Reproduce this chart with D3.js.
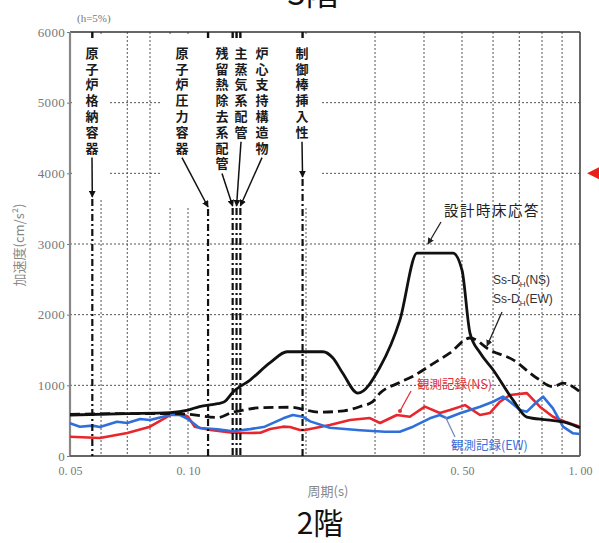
<!DOCTYPE html>
<html>
<head>
<meta charset="utf-8">
<script src="https://cdn.jsdelivr.net/npm/d3@7"></script>
<style>
  body { margin: 0; background: #fff; }
  svg { display: block; }
</style>
</head>
<body>
<div id="chart"></div>
<script>
// periods (s) and floor response values (cm/s^2)
var designT   = [0.05, 0.07, 0.09, 0.1, 0.107, 0.119, 0.124, 0.13, 0.144, 0.162, 0.179, 0.221, 0.234, 0.248, 0.271, 0.309, 0.347, 0.384, 0.474, 0.5, 0.524, 0.556, 0.6, 0.675, 0.732, 0.824, 0.926, 1.0];
var designV   = [580, 600, 615, 650, 700, 740, 770, 900, 1075, 1320, 1475, 1475, 1390, 1175, 890, 1260, 1920, 2870, 2870, 2630, 1740, 1460, 1220, 790, 550, 510, 470, 400];

var ssT       = [0.05, 0.07, 0.09, 0.1, 0.119, 0.13, 0.136, 0.15, 0.182, 0.217, 0.25, 0.275, 0.296, 0.309, 0.347, 0.375, 0.42, 0.466, 0.524, 0.589, 0.675, 0.777, 0.853, 0.905, 1.0];
var ssV       = [590, 600, 600, 590, 545, 620, 640, 680, 690, 620, 640, 700, 770, 890, 1040, 1130, 1300, 1460, 1670, 1500, 1360, 1100, 980, 1030, 910];

var nsT       = [0.05, 0.0596, 0.07, 0.08, 0.09, 0.0954, 0.1, 0.104, 0.114, 0.13, 0.144, 0.153, 0.162, 0.175, 0.182, 0.193, 0.199, 0.23, 0.259, 0.291, 0.309, 0.341, 0.368, 0.402, 0.439, 0.466, 0.509, 0.556, 0.589, 0.625, 0.663, 0.732, 0.79, 0.853, 0.916, 1.0];
var nsV       = [273, 255, 325, 415, 580, 608, 556, 415, 368, 330, 325, 330, 382, 415, 410, 368, 368, 440, 510, 537, 467, 580, 556, 698, 608, 650, 720, 580, 608, 768, 863, 890, 698, 556, 485, 415];

var ewT       = [0.05, 0.053, 0.057, 0.0596, 0.0659, 0.07, 0.0755, 0.08, 0.09, 0.0954, 0.1, 0.107, 0.119, 0.13, 0.144, 0.157, 0.175, 0.185, 0.196, 0.205, 0.23, 0.275, 0.318, 0.347, 0.375, 0.414, 0.439, 0.458, 0.494, 0.556, 0.6, 0.636, 0.663, 0.703, 0.732, 0.777, 0.805, 0.853, 0.905, 0.96, 1.0];
var ewV       = [462, 415, 430, 410, 485, 467, 523, 509, 580, 580, 523, 396, 378, 350, 380, 415, 533, 580, 556, 490, 400, 365, 344, 344, 415, 533, 580, 533, 604, 698, 768, 840, 768, 650, 627, 768, 840, 675, 415, 321, 311];

// natural periods of the equipment checked
var eventT      = [0.057, 0.1125, 0.130, 0.133, 0.136, 0.196];
var eventLabels = ["原子炉格納容器", "原子炉圧力容器", "残留熱除去系配管", "主蒸気系配管", "炉心支持構造物", "制御棒挿入性"];

var yTicks = [0, 1000, 2000, 3000, 4000, 5000, 6000];
var xTicks = [0.05, 0.10, 0.50, 1.00];
var xGrid  = [0.06, 0.07, 0.08, 0.09, 0.1, 0.2, 0.3, 0.4, 0.5, 0.6, 0.7, 0.8, 0.9];
var yGrid  = [1000, 2000, 3000, 4000, 5000];

var W = 599, H = 543;
var pL = 70, pR = 580, pT = 32, pB = 456;
var jp = "'Noto Sans CJK JP', sans-serif";
var serif = "'Liberation Serif', 'DejaVu Serif', serif";

var svg = d3.select("#chart").append("svg")
    .attr("width", W)
    .attr("height", H);

var x = d3.scaleLog().domain([0.05, 1.0]).range([pL, pR]);
var y = d3.scaleLinear().domain([0, 6000]).range([pB, pT]);

function pairs(t, v) {
    return t.map(function (d, i) { return [d, v[i]]; });
}

// arrow head markers
var defs = svg.append("defs");
defs.append("marker")
    .attr("id", "arr")
    .attr("viewBox", "0 0 10 10")
    .attr("refX", 9).attr("refY", 5)
    .attr("markerWidth", 4.5).attr("markerHeight", 4.5)
    .attr("orient", "auto")
    .append("path").attr("d", "M0,0L10,5L0,10Z").attr("fill", "#111");
defs.append("marker")
    .attr("id", "arrSmall")
    .attr("viewBox", "0 0 10 10")
    .attr("refX", 9).attr("refY", 5)
    .attr("markerWidth", 5).attr("markerHeight", 5)
    .attr("orient", "auto")
    .append("path").attr("d", "M0,0L10,5L0,10Z").attr("fill", "#222");

// grid
svg.append("g").selectAll("line").data(xGrid).enter().append("line")
    .attr("x1", function (d) { return x(d); })
    .attr("x2", function (d) { return x(d); })
    .attr("y1", pT).attr("y2", pB)
    .attr("stroke", "#555").attr("stroke-width", 1)
    .attr("stroke-dasharray", "2,2");

svg.append("g").selectAll("line").data(yGrid).enter().append("line")
    .attr("x1", pL).attr("x2", pR)
    .attr("y1", function (d) { return y(d); })
    .attr("y2", function (d) { return y(d); })
    .attr("stroke", "#555").attr("stroke-width", 1)
    .attr("stroke-dasharray", "2,2");

// grid is left blank behind the label columns
svg.append("rect").attr("x", pL + 2).attr("y", pT + 2).attr("width", 38).attr("height", 166).attr("fill", "#fff");
svg.append("rect").attr("x", 160).attr("y", pT + 2).attr("width", 162).attr("height", 173).attr("fill", "#fff");

// axes
var yAxis = d3.axisLeft(y).tickValues(yTicks).tickSize(3).tickPadding(2)
    .tickFormat(d3.format("d"));
var gy = svg.append("g").attr("transform", "translate(" + pL + ",0)").call(yAxis);
gy.select(".domain").remove();
gy.selectAll("line").attr("stroke", "#777");
gy.selectAll("text")
    .attr("font-family", serif).attr("font-size", 13)
    .attr("letter-spacing", 0.3)
    .attr("fill", "#777");

var xAxis = d3.axisBottom(x).tickValues(xTicks).tickSize(0).tickPadding(10)
    .tickFormat(function (d) { return d3.format(".2f")(d).replace(".", ". "); });
var gx = svg.append("g").attr("transform", "translate(0," + pB + ")").call(xAxis);
gx.select(".domain").remove();
gx.selectAll("text")
    .attr("font-family", serif).attr("font-size", 12)
    .attr("fill", "#777");

// frame
svg.append("line").attr("x1", pL).attr("x2", pR).attr("y1", pT).attr("y2", pT)
    .attr("stroke", "#333").attr("stroke-width", 1.6);
svg.append("line").attr("x1", pR).attr("x2", pR).attr("y1", pT).attr("y2", pB)
    .attr("stroke", "#444").attr("stroke-width", 1.6);
svg.append("line").attr("x1", pL).attr("x2", pL).attr("y1", pT).attr("y2", pB + 1)
    .attr("stroke", "#888").attr("stroke-width", 2.2);
svg.append("line").attr("x1", pL).attr("x2", pR).attr("y1", pB).attr("y2", pB)
    .attr("stroke", "#666").attr("stroke-width", 2);

// spectra
var lineSmooth = d3.line()
    .x(function (d) { return x(d[0]); })
    .y(function (d) { return y(d[1]); })
    .curve(d3.curveMonotoneX);
var lineJag = d3.line()
    .x(function (d) { return x(d[0]); })
    .y(function (d) { return y(d[1]); });

svg.append("path").datum(pairs(nsT, nsV))
    .attr("d", lineJag).attr("fill", "none")
    .attr("stroke", "#e8262b").attr("stroke-width", 2.6).attr("stroke-linejoin", "round");
svg.append("path").datum(pairs(ewT, ewV))
    .attr("d", lineJag).attr("fill", "none")
    .attr("stroke", "#2e6fdc").attr("stroke-width", 2.6).attr("stroke-linejoin", "round");
svg.append("path").datum(pairs(ssT, ssV))
    .attr("d", lineSmooth).attr("fill", "none")
    .attr("stroke", "#111").attr("stroke-width", 2.8)
    .attr("stroke-dasharray", "10,5");
svg.append("path").datum(pairs(designT, designV))
    .attr("d", lineSmooth).attr("fill", "none")
    .attr("stroke", "#111").attr("stroke-width", 2.8).attr("stroke-linejoin", "round");

// equipment period lines with vertical labels
// column x, and where each leader ends (arrow tip)
var colX = [92, 182, 222, 241, 262, 302];
var tipY = [197, 207, 206, 206, 206, 177];
var textTop = 45, pitch = 15.8;

var ev = svg.append("g");
eventT.forEach(function (t, i) {
    var ex = x(t);
    // short tick on the upper frame
    ev.append("line").attr("x1", ex).attr("x2", ex).attr("y1", pT).attr("y2", pT + 6)
        .attr("stroke", "#111").attr("stroke-width", 2.4);
    // dash-dot line down to the axis
    ev.append("line").attr("x1", ex).attr("x2", ex).attr("y1", tipY[i] + 2).attr("y2", pB)
        .attr("stroke", "#111").attr("stroke-width", 2.2)
        .attr("stroke-dasharray", "7,3,2,3");

    // stacked characters, one per row
    var chars = Array.from(eventLabels[i]);
    ev.append("g").selectAll("text").data(chars).enter().append("text")
        .attr("x", colX[i])
        .attr("y", function (d, j) { return textTop + (j + 1) * pitch - 3; })
        .attr("text-anchor", "middle")
        .attr("font-family", jp).attr("font-size", 13).attr("font-weight", "bold")
        .attr("fill", "#1a1a1a")
        .text(function (d) { return d; });

    var ty = textTop + chars.length * pitch + 2;
    ev.append("line")
        .attr("x1", colX[i]).attr("y1", ty)
        .attr("x2", ex).attr("y2", tipY[i])
        .attr("stroke", "#111").attr("stroke-width", 1.5)
        .attr("marker-end", "url(#arr)");
});

// legend labels with leaders
function leader(x1, y1, x2, y2, col, marker) {
    var l = svg.append("line")
        .attr("x1", x1).attr("y1", y1).attr("x2", x2).attr("y2", y2)
        .attr("stroke", col).attr("stroke-width", 1.3);
    if (marker) l.attr("marker-end", marker);
}

svg.append("text").attr("x", 444).attr("y", 216)
    .attr("font-family", jp).attr("font-size", 14.5).attr("letter-spacing", 1.5)
    .attr("fill", "#222").text("設計時床応答");
leader(441, 222, 428, 244, "#222", "url(#arrSmall)");

var ssLbl = svg.append("text").attr("font-family", "'Liberation Sans', Arial, sans-serif")
    .attr("font-size", 12).attr("fill", "#333");
ssLbl.append("tspan").attr("x", 493).attr("y", 284).text("Ss-D");
ssLbl.append("tspan").attr("font-size", 8).attr("dy", 3).text("H");
ssLbl.append("tspan").attr("dy", -3).text("(NS)");
var ssLbl2 = svg.append("text").attr("font-family", "'Liberation Sans', Arial, sans-serif")
    .attr("font-size", 12).attr("fill", "#333");
ssLbl2.append("tspan").attr("x", 493).attr("y", 303).text("Ss-D");
ssLbl2.append("tspan").attr("font-size", 8).attr("dy", 3).text("H");
ssLbl2.append("tspan").attr("dy", -3).text("(EW)");
leader(502, 312, 487, 346, "#222", "url(#arrSmall)");

svg.append("text").attr("x", 417).attr("y", 389)
    .attr("font-family", jp).attr("font-size", 12.5)
    .attr("fill", "#e0323a").text("観測記録(NS)");
leader(411, 391, 400, 411, "#e0323a", null);
svg.append("circle").attr("cx", 400).attr("cy", 411).attr("r", 2).attr("fill", "#e0323a");

svg.append("text").attr("x", 451).attr("y", 450)
    .attr("font-family", jp).attr("font-size", 12.5)
    .attr("fill", "#3a70d8").text("観測記録(EW)");
leader(455, 437, 445, 416, "#6f8fbf", null);

// labels around the plot
svg.append("text").attr("x", 77).attr("y", 22)
    .attr("font-family", serif).attr("font-size", 11).attr("fill", "#777")
    .text("(h=5%)");

svg.append("text")
    .attr("transform", "translate(24,245) rotate(-90)")
    .attr("text-anchor", "middle")
    .attr("font-family", jp).attr("font-size", 13).attr("fill", "#888")
    .text("加速度(cm/s²)");

svg.append("text").attr("x", 328).attr("y", 496)
    .attr("text-anchor", "middle")
    .attr("font-family", jp).attr("font-size", 13).attr("fill", "#888")
    .text("周期(s)");

svg.append("text").attr("x", 320).attr("y", 534)
    .attr("text-anchor", "middle")
    .attr("font-family", jp).attr("font-size", 30).attr("fill", "#111")
    .text("2階");

svg.append("text").attr("x", 313).attr("y", 5)
    .attr("text-anchor", "middle")
    .attr("font-family", jp).attr("font-size", 33).attr("fill", "#111")
    .text("3階");

// red pointer at the right edge
svg.append("path")
    .attr("d", "M587," + y(4000) + "L599," + (y(4000) - 6) + "L599," + (y(4000) + 6) + "Z")
    .attr("fill", "#e8201a");
</script>
</body>
</html>
